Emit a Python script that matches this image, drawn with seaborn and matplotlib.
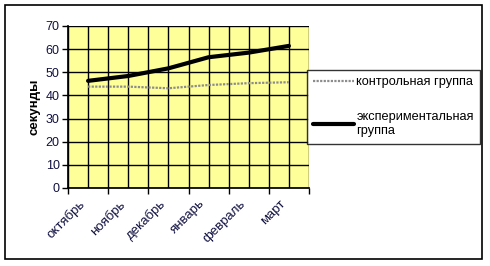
import matplotlib
matplotlib.use("Agg")
import matplotlib.pyplot as plt
import seaborn as sns
import pandas as pd
from matplotlib.patches import Rectangle
from matplotlib.lines import Line2D

months = ["октябрь", "ноябрь", "декабрь", "январь", "февраль", "март"]
control = [43.8, 43.8, 43.1, 44.5, 45.3, 45.7]
experimental = [46.3, 48.4, 51.7, 56.5, 58.5, 61.4]
series_names = ["контрольная группа", "экспериментальная\nгруппа"]
y_ticks = [0, 10, 20, 30, 40, 50, 60, 70]

sns.set_theme(style="white")
plt.rcParams['font.family'] = ['Liberation Sans', 'DejaVu Sans']

df = pd.DataFrame({
    "pos": list(range(len(months))) * 2,
    "value": control + experimental,
    "series": [series_names[0]] * len(months) + [series_names[1]] * len(months),
})

fig = plt.figure(figsize=(4.9, 2.66), dpi=100)
fig.patch.set_facecolor("white")
fig.add_artist(Rectangle((5 / 490, 1 - 259 / 266), 477 / 490, 254 / 266,
                         transform=fig.transFigure, fill=False,
                         edgecolor="black", linewidth=1.2))

ax = fig.add_axes([68 / 490, 1 - 188 / 266, 241 / 490, 162 / 266])
ax.set_facecolor("#FFFF99")

for v in [i * 0.5 - 0.5 for i in range(13)]:
    ax.axvline(v, color="black", lw=1, zorder=1)
for v in y_ticks:
    ax.axhline(v, color="black", lw=1, zorder=1)

sns.lineplot(data=df, x="pos", y="value", hue="series", style="series",
             palette={series_names[0]: "#8c8c8c", series_names[1]: "black"},
             dashes={series_names[0]: (1, 0.6), series_names[1]: ""},
             size="series", sizes={series_names[0]: 1.6, series_names[1]: 3.0},
             ax=ax, legend=False, zorder=3)

ax.set_xlim(-0.5, len(months) - 0.5)
ax.set_ylim(0, 70)
ax.set_xticks([i - 0.5 for i in range(len(months) + 1)])
ax.set_xticklabels([])
ax.set_xticks([i - 0.24 for i in range(len(months))], minor=True)
ax.set_xticklabels(months, minor=True, rotation=45, ha="right", va="top",
                   rotation_mode="anchor", fontsize=9.5, color="#101040")
ax.tick_params(axis="x", which="minor", length=0, pad=7)
ax.tick_params(axis="x", which="major", length=4, width=1, direction="out",
               color="black", bottom=True)
ax.set_yticks(y_ticks)
ax.set_yticklabels([str(v) for v in y_ticks], fontsize=9, color="#101040")
ax.tick_params(axis="y", length=4, width=1, direction="out", color="black",
               left=True, pad=2)
for s in ["top", "right"]:
    ax.spines[s].set_visible(False)
for s in ["left", "bottom"]:
    ax.spines[s].set_visible(True)
    ax.spines[s].set_color("black")
ax.set_xlabel("")
ax.set_ylabel("секунды", fontsize=9.5, fontweight="bold", color="black", labelpad=4)

handles = [Line2D([], [], color="#8c8c8c", lw=1.6, dashes=(1, 0.6)),
           Line2D([], [], color="black", lw=3.0)]
leg = fig.legend(handles, series_names, loc="upper left",
                 bbox_to_anchor=(307 / 490, 1 - 70 / 266),
                 frameon=True, fancybox=False, fontsize=9.2,
                 handlelength=3.2, handletextpad=0.15, labelspacing=1.8,
                 borderpad=0.5, borderaxespad=0)
leg.get_frame().set_edgecolor("black")
leg.get_frame().set_linewidth(1)
for t in leg.get_texts():
    t.set_color("black")

fig.savefig("out.png", dpi=100, facecolor="white")
